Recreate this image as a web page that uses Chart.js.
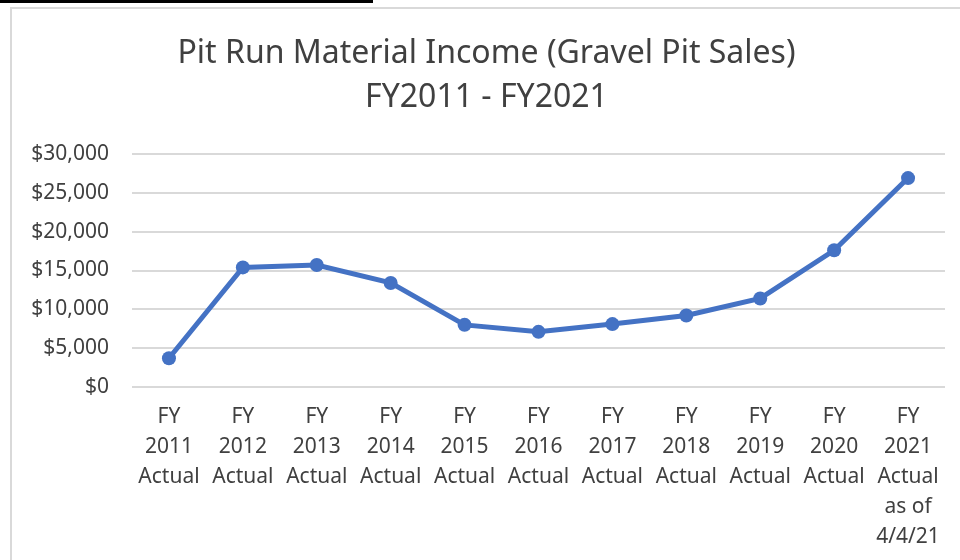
<!DOCTYPE html>
<html>
<head>
<meta charset="utf-8">
<script src="https://cdn.jsdelivr.net/npm/chart.js@4/dist/chart.umd.min.js"></script>
<style>
  html, body { margin: 0; padding: 0; background: #fff; }
  body { width: 960px; height: 560px; position: relative; overflow: hidden; }
  #topBar { position: absolute; left: 0; top: 0; width: 373px; height: 3px; background: #000; }
  #frame {
    position: absolute; left: 10px; top: 7px; width: 950px; height: 553px;
    border-left: 2px solid #d9d9d9; border-top: 2px solid #d9d9d9;
  }
  #wrap { position: absolute; left: 2px; top: 2px; width: 948px; height: 551px; }
</style>
</head>
<body>
<div id="topBar"></div>
<div id="frame">
  <div id="wrap"><canvas id="myChart"></canvas></div>
</div>
<script>
// Datos
const titleLines = ["Pit Run Material Income (Gravel Pit Sales)", "FY2011 - FY2021"];
const categories = [
  ["FY", "2011", "Actual"],
  ["FY", "2012", "Actual"],
  ["FY", "2013", "Actual"],
  ["FY", "2014", "Actual"],
  ["FY", "2015", "Actual"],
  ["FY", "2016", "Actual"],
  ["FY", "2017", "Actual"],
  ["FY", "2018", "Actual"],
  ["FY", "2019", "Actual"],
  ["FY", "2020", "Actual"],
  ["FY", "2021", "Actual", "as of", "4/4/21"]
];
const income = [3700, 15400, 15700, 13400, 8000, 7100, 8100, 9200, 11400, 17600, 26900];
const yTicks = [0, 5000, 10000, 15000, 20000, 25000, 30000];

const blue = "#4472C4";
const textColor = "#404040";
const fontFamily = "'Noto Sans', 'Open Sans', sans-serif";

const ctx = document.getElementById("myChart").getContext("2d");
const chart = new Chart(ctx, {
  type: "line",
  data: {
    labels: categories,
    datasets: [{
      data: income,
      borderColor: blue,
      backgroundColor: blue,
      borderWidth: 5,
      pointRadius: 7,
      pointHoverRadius: 7,
      pointBorderWidth: 0,
      tension: 0
    }]
  },
  options: {
    responsive: true,
    maintainAspectRatio: false,
    animation: false,
    layout: { padding: { left: 14, right: 17, top: 0, bottom: 0 } },
    plugins: {
      legend: { display: false },
      tooltip: { enabled: false },
      title: {
        display: true,
        text: titleLines,
        color: textColor,
        font: { family: fontFamily, size: 32, weight: "normal", lineHeight: 1.375 },
        padding: { top: 21, bottom: 34 }
      }
    },
    scales: {
      x: {
        offset: true,
        grid: { display: false, drawTicks: false },
        border: { display: false },
        ticks: {
          color: textColor,
          maxRotation: 0,
          autoSkip: false,
          padding: 15,
          font: { family: fontFamily, size: 21, lineHeight: 1.43 }
        },
        afterFit: scale => { scale.height = 175; }
      },
      y: {
        min: 0,
        max: 30000,
        afterBuildTicks: scale => { scale.ticks = yTicks.map(v => ({ value: v })); },
        grid: { color: "#d9d9d9", lineWidth: 2, drawTicks: false },
        border: { display: false },
        ticks: {
          color: textColor,
          padding: 23,
          font: { family: fontFamily, size: 21 },
          callback: v => "$" + v.toLocaleString("en-US")
        },
        afterFit: scale => { scale.width = 104; }
      }
    }
  }
});
</script>
</body>
</html>
